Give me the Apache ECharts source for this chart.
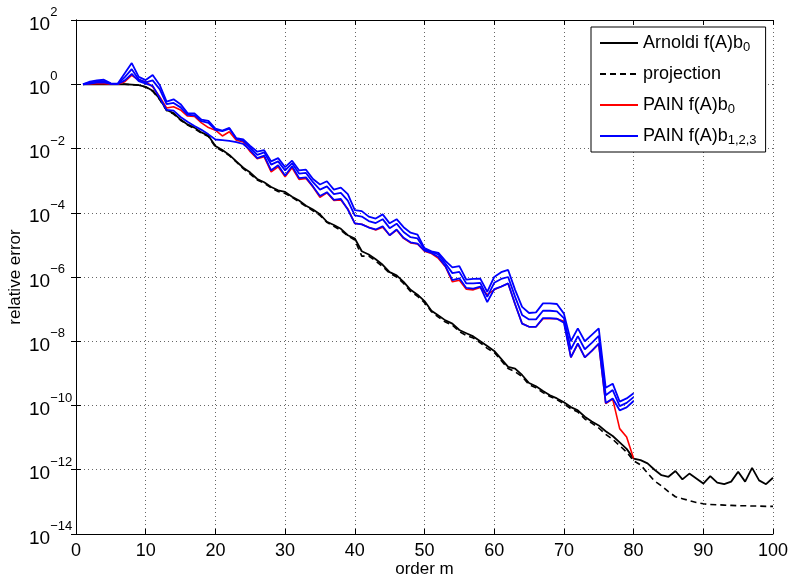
<!DOCTYPE html>
<html>
<head>
<meta charset="utf-8">
<script src="https://cdn.jsdelivr.net/npm/echarts@6/dist/echarts.min.js"></script>
<style>
  html, body { margin: 0; padding: 0; background: #fff; }
  #chart { width: 790px; height: 577px; }
</style>
</head>
<body>
<div id="chart"></div>
<script>
  // values as log10(relative error), order m = 1, 2, 3 ...
  var arnoldiLog = [
    0, 0, 0, 0, 0, 0, 0, -0.01, -0.03, -0.08,
    -0.2, -0.45, -0.8, -0.9, -1.1, -1.25, -1.35, -1.5, -1.6, -1.92,
    -2.05, -2.2, -2.4, -2.6, -2.75, -2.95, -3.05, -3.2, -3.3, -3.35,
    -3.5, -3.62, -3.78, -3.9, -4.05, -4.28, -4.38, -4.5, -4.7, -4.8,
    -5.2, -5.3, -5.45, -5.62, -5.85, -5.95, -6.15, -6.4, -6.55, -6.75,
    -7.05, -7.2, -7.35, -7.45, -7.65, -7.75, -7.85, -8.0, -8.15, -8.3,
    -8.55, -8.8, -8.85, -9.05, -9.3, -9.4, -9.55, -9.68, -9.78, -9.9,
    -10.05, -10.15, -10.35, -10.5, -10.62, -10.8, -10.95, -11.15, -11.35, -11.65,
    -11.7, -11.8, -12.0, -12.17, -12.22, -12.04, -12.3, -12.12, -12.27, -12.43,
    -12.2, -12.4, -12.45, -12.37, -12.06, -12.37, -11.94, -12.33, -12.45, -12.25
  ];
  var projectionLog = [
    0, 0, 0, 0, 0, 0, 0, -0.01, -0.03, -0.09,
    -0.22, -0.48, -0.82, -0.93, -1.12, -1.27, -1.38, -1.52, -1.63, -1.95,
    -2.08, -2.22, -2.42, -2.63, -2.8, -2.98, -3.08, -3.22, -3.34, -3.4,
    -3.52, -3.66, -3.8, -3.94, -4.08, -4.3, -4.42, -4.55, -4.72, -4.85,
    -5.35, -5.35, -5.5, -5.68, -5.88, -6.0, -6.2, -6.45, -6.6, -6.8,
    -7.08, -7.25, -7.4, -7.5, -7.7, -7.82, -7.9, -8.05, -8.22, -8.35,
    -8.6, -8.85, -8.95, -9.1, -9.35, -9.45, -9.6, -9.72, -9.82, -9.95,
    -10.1, -10.2, -10.42, -10.55, -10.7, -10.9, -11.05, -11.25, -11.45, -11.72,
    -11.85, -12.1, -12.35, -12.5, -12.68, -12.84, -12.9, -12.96, -13.02, -13.06,
    -13.08, -13.09, -13.1, -13.11, -13.12, -13.12, -13.13, -13.13, -13.14, -13.14
  ];
  var painB0Log = [
    0, 0.01, 0.02, 0.02, 0, 0, 0.08, 0.28, 0.13, 0.08,
    -0.08, -0.39, -0.74, -0.7, -0.8, -0.99, -1.0, -1.2, -1.35, -1.43,
    -1.61, -1.48, -1.74, -1.8, -2.1, -2.32, -2.26, -2.73, -2.57, -2.88,
    -2.6, -2.96, -2.93, -3.2, -3.52, -3.38, -3.62, -3.6, -3.88, -4.33,
    -4.36, -4.45, -4.54, -4.45, -4.7, -4.54, -4.8, -4.94, -4.97, -5.2,
    -5.27, -5.42, -5.68, -6.15, -6.1, -6.38, -6.4, -6.33, -6.55, -6.4,
    -6.3, -6.2, -6.85, -7.45, -7.55, -7.55, -7.3, -7.3, -7.3, -7.38,
    -8.5, -8.08, -8.5, -8.3, -8.08, -9.94, -9.8, -10.72, -10.98, -11.65
  ];
  var painB1Log = [
    0, 0.02, 0.05, 0.06, 0.01, 0.01, 0.12, 0.32, 0.1, 0.02,
    -0.05, -0.42, -0.8, -0.82, -1.02, -1.17, -1.3, -1.42, -1.56, -1.72,
    -1.74, -1.76, -1.8, -1.86, -2.05, -2.3, -2.22, -2.68, -2.52, -2.84,
    -2.55, -2.92, -2.9, -3.18, -3.48, -3.36, -3.6, -3.57, -3.9, -4.33,
    -4.36, -4.46, -4.52, -4.42, -4.7, -4.52, -4.78, -4.92, -4.96, -5.18,
    -5.25, -5.38, -5.66, -6.1, -6.04, -6.34, -6.36, -6.3, -6.78, -6.38,
    -6.3, -6.2, -6.85, -7.45, -7.55, -7.55, -7.28, -7.28, -7.3, -7.42,
    -8.5, -8.07, -8.5, -8.3, -8.07, -9.92, -9.78, -10.15, -10.06, -9.86
  ];
  var painB2Log = [
    0, 0.05, 0.09, 0.1, 0.02, 0.01, 0.22, 0.47, 0.15, 0.06,
    0.12, -0.15, -0.62, -0.58, -0.72, -0.95, -0.97, -1.15, -1.2, -1.42,
    -1.46, -1.38, -1.7, -1.76, -1.98, -2.2, -2.12, -2.5, -2.4, -2.68,
    -2.46, -2.78, -2.76, -3.05, -3.28, -3.18, -3.42, -3.38, -3.62, -4.08,
    -4.12, -4.26, -4.32, -4.2, -4.48, -4.34, -4.6, -4.76, -4.8, -5.14,
    -5.22, -5.3, -5.58, -5.88, -5.84, -6.2, -6.2, -6.18, -6.62, -6.18,
    -6.06, -6.0, -6.62, -7.18, -7.32, -7.32, -7.05, -7.05, -7.07, -7.28,
    -8.25, -7.84, -8.25, -8.05, -7.83, -9.68, -9.52, -10.02, -9.92, -9.74
  ];
  var painB3Log = [
    0, 0.08, 0.12, 0.14, 0.03, 0.02, 0.34, 0.66, 0.23, 0.13,
    0.29, -0.02, -0.54, -0.47, -0.62, -0.9, -0.91, -1.1, -1.14, -1.38,
    -1.44, -1.36, -1.68, -1.72, -1.92, -2.1, -2.05, -2.4, -2.3, -2.58,
    -2.38, -2.68, -2.66, -2.95, -3.12, -3.02, -3.28, -3.22, -3.42, -3.92,
    -3.95, -4.12, -4.18, -4.05, -4.33, -4.2, -4.45, -4.62, -4.68, -5.1,
    -5.2, -5.25, -5.5, -5.7, -5.66, -6.08, -6.06, -6.05, -6.46, -6.0,
    -5.85, -5.78, -6.4, -6.93, -7.12, -7.1, -6.82, -6.82, -6.84, -7.14,
    -8.0, -7.6, -8.0, -7.8, -7.6, -9.45, -9.32, -9.88, -9.78, -9.62
  ];

  var legendNames = ['Arnoldi f(A)b0', 'projection', 'PAIN f(A)b0 ', 'PAIN f(A)b1,2,3'];
  var legendLabels = {
    'Arnoldi f(A)b0': 'Arnoldi f(A)b{s|0}',
    'projection': 'projection',
    'PAIN f(A)b0 ': 'PAIN f(A)b{s|0}',
    'PAIN f(A)b1,2,3': 'PAIN f(A)b{s|1,2,3}'
  };

  var font = 'Liberation Sans, Arial, Helvetica, sans-serif';

  function toPairs(arr) {
    return arr.map(function (v, i) { return [i + 1, Math.pow(10, v)]; });
  }

  function lineSeries(name, data, color, width, dash) {
    return {
      name: name,
      type: 'line',
      data: toPairs(data),
      symbol: 'none',
      showSymbol: false,
      lineStyle: { color: color, width: width, type: dash || 'solid' },
      itemStyle: { color: color },
      xAxisIndex: 0,
      yAxisIndex: 0,
      animation: false
    };
  }

  var chart = echarts.init(document.getElementById('chart'));

  var gridLine = { show: true, lineStyle: { color: '#666', width: 1, type: [1, 3] } };

  chart.setOption({
    animation: false,
    backgroundColor: '#fff',
    textStyle: { fontFamily: font },
    grid: { left: 76, right: 17, top: 20, bottom: 43, containLabel: false, outerBoundsMode: 'none' },
    legend: {
      data: legendNames,
      orient: 'vertical',
      left: 591,
      top: 27,
      itemWidth: 38,
      itemHeight: 14,
      itemGap: 9,
      padding: [5, 9, 5, 8],
      backgroundColor: '#fff',
      borderColor: '#000',
      borderWidth: 1,
      borderRadius: 0,
      itemStyle: { opacity: 0 },
      formatter: function (name) { return legendLabels[name]; },
      textStyle: {
        fontFamily: font,
        fontSize: 18,
        color: '#000',
        lineHeight: 22,
        rich: {
          s: { fontSize: 13, lineHeight: 12, verticalAlign: 'bottom', fontFamily: font, color: '#000' }
        }
      }
    },
    xAxis: [{
      type: 'value',
      min: 0,
      max: 100,
      interval: 10,
      name: 'order m',
      nameLocation: 'middle',
      nameGap: 27,
      nameMoveOverlap: false,
      nameTextStyle: { fontSize: 17, color: '#000', fontFamily: font },
      axisLine: { lineStyle: { color: '#000', width: 1 } },
      axisTick: { inside: true, length: 5, lineStyle: { color: '#000' } },
      axisLabel: { fontSize: 18, color: '#000', margin: 8, fontFamily: font },
      splitLine: gridLine
    }, {
      type: 'value',
      position: 'top',
      min: 0,
      max: 100,
      interval: 10,
      axisLine: { show: true, lineStyle: { color: '#000', width: 1 } },
      axisTick: { show: true, inside: true, length: 5, lineStyle: { color: '#000' } },
      axisLabel: { show: false },
      splitLine: { show: false }
    }],
    yAxis: [{
      type: 'log',
      logBase: 10,
      min: 1e-14,
      max: 1e2,
      interval: 2,
      name: 'relative error',
      nameLocation: 'middle',
      nameGap: 52,
      nameMoveOverlap: false,
      nameTextStyle: { fontSize: 17, color: '#000', fontFamily: font },
      axisLine: { show: true, lineStyle: { color: '#000', width: 1 } },
      axisTick: { show: true, inside: true, length: 5, lineStyle: { color: '#000' } },
      axisLabel: {
        margin: 47,
        align: 'left',
        formatter: function (v) {
          var e = Math.round(Math.log(v) / Math.LN10);
          return '{b|10}{e|' + String(e).replace('-', '\u2212') + '}';
        },
        rich: {
          b: { fontSize: 19, lineHeight: 28, color: '#000', fontFamily: font, verticalAlign: 'bottom' },
          e: { fontSize: 13, lineHeight: 15, color: '#000', fontFamily: font, verticalAlign: 'top' }
        }
      },
      splitLine: gridLine
    }, {
      type: 'log',
      logBase: 10,
      position: 'right',
      min: 1e-14,
      max: 1e2,
      interval: 2,
      axisLine: { show: true, lineStyle: { color: '#000', width: 1 } },
      axisTick: { show: true, inside: true, length: 5, lineStyle: { color: '#000' } },
      axisLabel: { show: false },
      splitLine: { show: false }
    }],
    series: [
      lineSeries('Arnoldi f(A)b0', arnoldiLog, '#000', 1.8),
      lineSeries('projection', projectionLog, '#000', 1.6, [6, 4]),
      lineSeries('PAIN f(A)b0 ', painB0Log, '#ff0000', 1.6),
      lineSeries('PAIN f(A)b1,2,3', painB1Log, '#0000ff', 1.8),
      lineSeries('PAIN f(A)b1,2,3', painB2Log, '#0000ff', 1.8),
      lineSeries('PAIN f(A)b1,2,3', painB3Log, '#0000ff', 1.8)
    ]
  });
</script>
</body>
</html>
